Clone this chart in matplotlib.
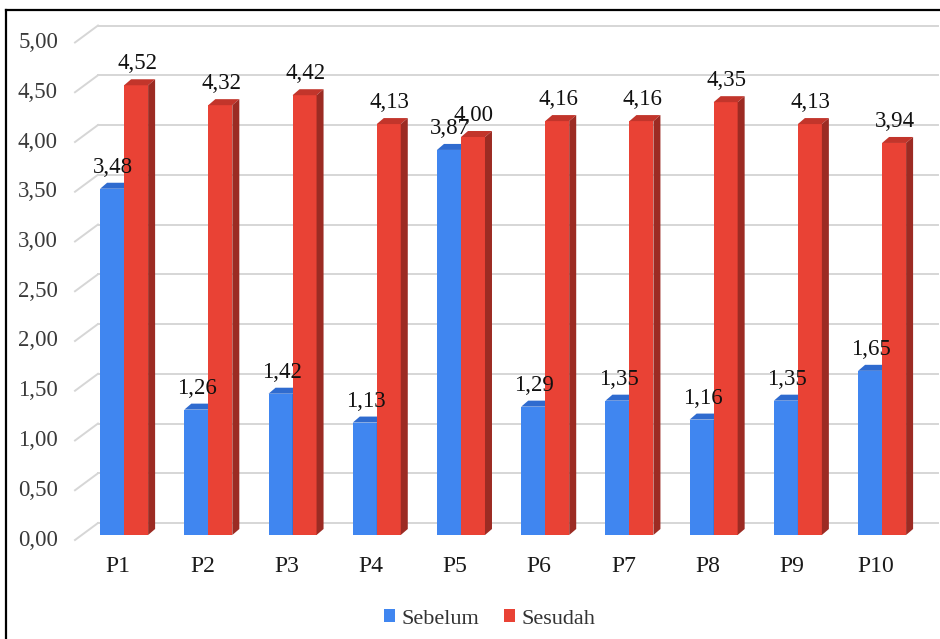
import matplotlib.pyplot as plt
import numpy as np
from matplotlib.patches import Polygon, Patch
from matplotlib.lines import Line2D

plt.rcParams['font.family'] = ['Liberation Serif', 'DejaVu Serif']

# data
kategori = ['P1', 'P2', 'P3', 'P4', 'P5', 'P6', 'P7', 'P8', 'P9', 'P10']
sebelum = [3.48, 1.26, 1.42, 1.13, 3.87, 1.29, 1.35, 1.16, 1.35, 1.65]
sesudah = [4.52, 4.32, 4.42, 4.13, 4.00, 4.16, 4.16, 4.35, 4.13, 3.94]
yticks = [0, 0.5, 1, 1.5, 2, 2.5, 3, 3.5, 4, 4.5, 5]

W, H = 940, 639
fig = plt.figure(figsize=(W / 100, H / 100), dpi=100)

# plot area in pixels (front face of the bars)
ax_l, ax_r = 82, 924.2
ax_b, ax_t = 535, 37.5
ax = fig.add_axes([ax_l / W, (H - ax_b) / H, (ax_r - ax_l) / W, (ax_b - ax_t) / H])
ax.set_xlim(0.5, 10.5)
ax.set_ylim(0, 5)
ax.axis('off')

# pixel -> data unit
sx = 10 / (ax_r - ax_l)
sy = 5 / (ax_b - ax_t)

def px_x(p):
    return 0.5 + (p - ax_l) * sx

x = np.arange(1, len(kategori) + 1)
w = 24 * sx
dx, dy = 7 * sx, 6 * sy

# gridlines on the back wall + diagonal on the side wall
for t in yticks:
    yb = t + 12 * sy
    yf = t - 5 * sy
    ax.plot([px_x(98), px_x(938)], [yb, yb], color='#d6d6d6', lw=1.4,
            clip_on=False, zorder=1)
    ax.plot([px_x(75), px_x(98)], [yf, yb], color='#d6d6d6', lw=1.4,
            clip_on=False, zorder=1)
    ax.text(px_x(58), yf, ('%.2f' % t).replace('.', ','), ha='right',
            va='center', fontsize=16.5, color='#3a3a3a')

def bar3d(x0, h, front, top, side, z):
    x1 = x0 + w
    ax.add_patch(Polygon([(x0, 0), (x1, 0), (x1, h), (x0, h)], closed=True,
                         facecolor=front, edgecolor='none', zorder=z))
    ax.add_patch(Polygon([(x0, h), (x1, h), (x1 + dx, h + dy), (x0 + dx, h + dy)],
                         closed=True, facecolor=top, edgecolor='none', zorder=z))
    ax.add_patch(Polygon([(x1, 0), (x1 + dx, dy), (x1 + dx, h + dy), (x1, h)],
                         closed=True, facecolor=side, edgecolor='none', zorder=z))

biru = '#4086f0'
merah = '#e94235'
for i in range(len(x)):
    bar3d(x[i] - w, sebelum[i], biru, '#2f6bcf', '#2a5fb8', 2 + i * 0.01)
    bar3d(x[i], sesudah[i], merah, '#c2352b', '#9c2b23', 3 + i * 0.01)

# value labels
for i in range(len(x)):
    for xc, v in [(x[i] - w / 2, sebelum[i]), (x[i] + w / 2, sesudah[i])]:
        ax.text(xc + 1 * sx, v + 16 * sy, ('%.2f' % v).replace('.', ','),
                ha='center', va='baseline', fontsize=16.5, color='#111111', zorder=10)

# category labels
for i in range(len(x)):
    ax.text(x[i] - 6 * sx, -32 * sy, kategori[i], ha='center', va='center',
            fontsize=17, color='#1a1a1a')

# legend
handles = [Patch(facecolor=biru, edgecolor='none'), Patch(facecolor=merah, edgecolor='none')]
fig.legend(handles, ['Sebelum', 'Sesudah'], loc='center', ncol=2,
           bbox_to_anchor=(490 / W, (H - 619) / H), frameon=False, fontsize=16,
           handlelength=0.5, handleheight=0.5, handletextpad=0.3,
           columnspacing=1.1, labelcolor='#333333')

# frame lines (top and left)
fig.add_artist(Line2D([6 / W, 1], [(H - 10) / H, (H - 10) / H], color='black', lw=1.6))
fig.add_artist(Line2D([6 / W, 6 / W], [0, (H - 10) / H], color='black', lw=1.6))

fig.savefig('out.png', dpi=100)
